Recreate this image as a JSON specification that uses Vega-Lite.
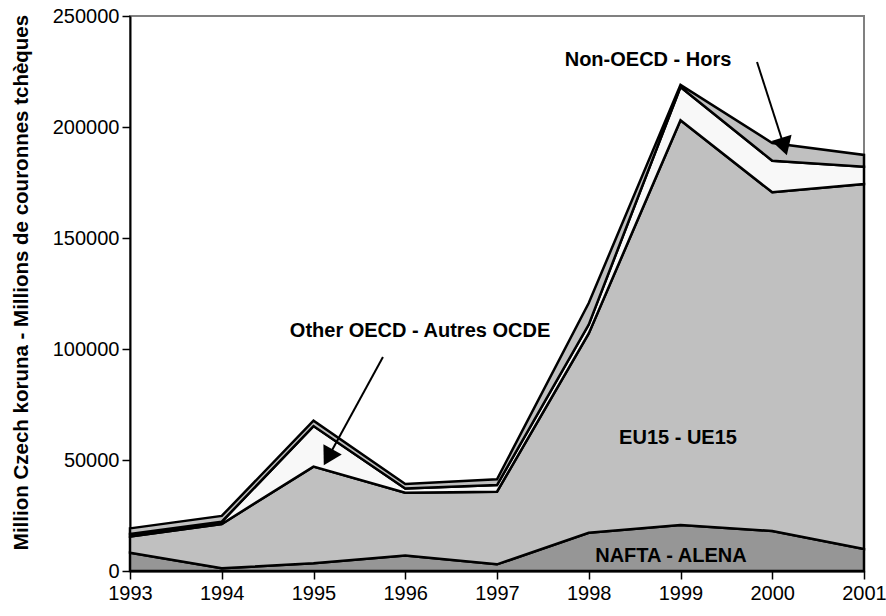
{
  "$schema": "https://vega.github.io/schema/vega-lite/v6.json",
  "autosize": {"type": "none"},
  "width": 734,
  "height": 555,
  "padding": {"left": 130, "top": 16, "right": 22, "bottom": 45},
  "background": "white",
  "config": {
    "font": "Liberation Sans",
    "view": {"stroke": "#808080", "strokeWidth": 2},
    "axis": {"grid": false, "domainColor": "black", "domainWidth": 2, "tickColor": "black", "tickWidth": 1.5, "tickSize": 8, "labelColor": "black", "labelFontSize": 20, "labelFont": "Liberation Sans", "zindex": 1}
  },
  "datasets": {
    "series": [
      {"year": 1993, "series": "NAFTA - ALENA", "order": 1, "value": 8200},
      {"year": 1994, "series": "NAFTA - ALENA", "order": 1, "value": 1200},
      {"year": 1995, "series": "NAFTA - ALENA", "order": 1, "value": 3500},
      {"year": 1996, "series": "NAFTA - ALENA", "order": 1, "value": 7000},
      {"year": 1997, "series": "NAFTA - ALENA", "order": 1, "value": 3000},
      {"year": 1998, "series": "NAFTA - ALENA", "order": 1, "value": 17200},
      {"year": 1999, "series": "NAFTA - ALENA", "order": 1, "value": 20700},
      {"year": 2000, "series": "NAFTA - ALENA", "order": 1, "value": 18000},
      {"year": 2001, "series": "NAFTA - ALENA", "order": 1, "value": 9900},
      {"year": 1993, "series": "EU15 - UE15", "order": 2, "value": 7300},
      {"year": 1994, "series": "EU15 - UE15", "order": 2, "value": 20000},
      {"year": 1995, "series": "EU15 - UE15", "order": 2, "value": 43500},
      {"year": 1996, "series": "EU15 - UE15", "order": 2, "value": 28300},
      {"year": 1997, "series": "EU15 - UE15", "order": 2, "value": 32700},
      {"year": 1998, "series": "EU15 - UE15", "order": 2, "value": 89800},
      {"year": 1999, "series": "EU15 - UE15", "order": 2, "value": 182300},
      {"year": 2000, "series": "EU15 - UE15", "order": 2, "value": 152600},
      {"year": 2001, "series": "EU15 - UE15", "order": 2, "value": 164400},
      {"year": 1993, "series": "Other OECD - Autres OCDE", "order": 3, "value": 1200},
      {"year": 1994, "series": "Other OECD - Autres OCDE", "order": 3, "value": 1000},
      {"year": 1995, "series": "Other OECD - Autres OCDE", "order": 3, "value": 18300},
      {"year": 1996, "series": "Other OECD - Autres OCDE", "order": 3, "value": 1900},
      {"year": 1997, "series": "Other OECD - Autres OCDE", "order": 3, "value": 3000},
      {"year": 1998, "series": "Other OECD - Autres OCDE", "order": 3, "value": 4000},
      {"year": 1999, "series": "Other OECD - Autres OCDE", "order": 3, "value": 15000},
      {"year": 2000, "series": "Other OECD - Autres OCDE", "order": 3, "value": 14200},
      {"year": 2001, "series": "Other OECD - Autres OCDE", "order": 3, "value": 7800},
      {"year": 1993, "series": "Non-OECD - Hors", "order": 4, "value": 2500},
      {"year": 1994, "series": "Non-OECD - Hors", "order": 4, "value": 2600},
      {"year": 1995, "series": "Non-OECD - Hors", "order": 4, "value": 2400},
      {"year": 1996, "series": "Non-OECD - Hors", "order": 4, "value": 2000},
      {"year": 1997, "series": "Non-OECD - Hors", "order": 4, "value": 2600},
      {"year": 1998, "series": "Non-OECD - Hors", "order": 4, "value": 9700},
      {"year": 1999, "series": "Non-OECD - Hors", "order": 4, "value": 1000},
      {"year": 2000, "series": "Non-OECD - Hors", "order": 4, "value": 8000},
      {"year": 2001, "series": "Non-OECD - Hors", "order": 4, "value": 5300}
    ],
    "labels": [
      {"label": "Non-OECD - Hors", "year": 1998.646, "value": 230000},
      {"label": "Other OECD - Autres OCDE", "year": 1996.161, "value": 107900},
      {"label": "EU15 - UE15", "year": 1998.973, "value": 59900},
      {"label": "NAFTA - ALENA", "year": 1998.896, "value": 6800}
    ],
    "arrows": [
      {"year": 1999.834, "value": 229300, "year2": 2000.13, "value2": 191200, "angle": -17},
      {"year": 1995.757, "value": 96400, "year2": 1995.16, "value2": 51200, "angle": 29}
    ],
    "heads": [
      {"year": 2000.13, "value": 191200, "angle": -17},
      {"year": 1995.16, "value": 51200, "angle": 29}
    ]
  },
  "encoding": {
    "x": {"field": "year", "type": "quantitative", "scale": {"domain": [1993, 2001], "nice": false, "zero": false}, "axis": {"values": [1993, 1994, 1995, 1996, 1997, 1998, 1999, 2000, 2001], "format": "d", "title": null, "labelPadding": 4, "labelFlush": false}},
    "y": {"field": "value", "type": "quantitative", "scale": {"domain": [0, 250000], "nice": false}, "axis": {"values": [0, 50000, 100000, 150000, 200000, 250000], "format": "d", "title": "Million Czech koruna - Millions de couronnes tchèques", "titleFontSize": 20.5, "titleFont": "Liberation Sans", "titleFontWeight": "bold", "titleColor": "black", "titlePadding": 21, "titleY": 266, "labelPadding": 3}}
  },
  "layer": [
    {
      "data": {"name": "series"},
      "mark": {"type": "area", "stroke": "black", "strokeWidth": 2.5, "strokeJoin": "miter", "opacity": 1},
      "encoding": {
        "color": {"field": "series", "type": "nominal", "scale": {"domain": ["NAFTA - ALENA", "EU15 - UE15", "Other OECD - Autres OCDE", "Non-OECD - Hors"], "range": ["#969696", "#c0c0c0", "#f8f8f8", "#c0c0c0"]}, "legend": null},
        "order": {"field": "order", "type": "quantitative", "sort": "ascending"}
      }
    },
    {
      "data": {"name": "arrows"},
      "mark": {"type": "rule", "color": "black", "strokeWidth": 2},
      "encoding": {
        "x2": {"field": "year2"},
        "y2": {"field": "value2"}
      }
    },
    {
      "data": {"name": "heads"},
      "mark": {"type": "point", "shape": "triangle-down", "filled": true, "color": "black", "size": 440, "opacity": 1},
      "encoding": {
        "angle": {"field": "angle", "type": "quantitative", "scale": null}
      }
    },
    {
      "data": {"name": "labels"},
      "mark": {"type": "text", "fontSize": 20, "fontWeight": "bold", "font": "Liberation Sans", "color": "black", "align": "center", "baseline": "middle"},
      "encoding": {
        "text": {"field": "label", "type": "nominal"}
      }
    }
  ]
}
